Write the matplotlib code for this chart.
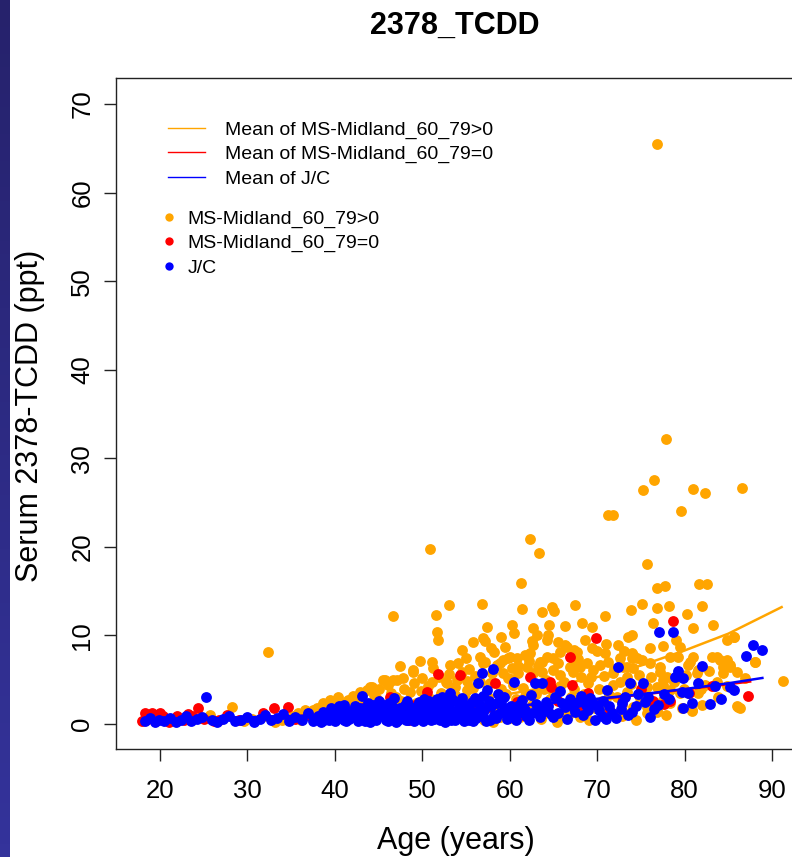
import numpy as np
import matplotlib
matplotlib.use("Agg")
import matplotlib.pyplot as plt
from matplotlib.lines import Line2D

plt.rcParams['font.family'] = ['Liberation Sans', 'DejaVu Sans']

# (age, serum ppt)
ms_pos = [  # MS-Midland_60_79>0 (orange)
    (76.8, 65.5), (77.9, 32.2), (76.5, 27.6), (75.2, 26.4), (81.0, 26.5), (82.3, 26.1),
    (86.6, 26.6), (79.6, 24.1), (71.2, 23.6), (71.8, 23.6), (62.3, 20.9), (63.3, 19.3),
    (50.9, 19.8), (75.7, 18.1), (76.8, 15.4), (77.8, 15.6), (81.6, 15.8), (82.6, 15.8),
    (61.3, 15.9), (46.7, 12.2), (51.6, 12.3), (53.0, 13.4), (56.8, 13.6), (61.4, 13.0),
    (63.7, 12.6), (64.8, 13.2), (65.1, 12.8), (67.5, 13.4), (73.9, 12.9), (75.1, 13.5),
    (76.8, 13.1), (78.2, 13.3), (82.0, 13.3), (70.9, 12.2), (80.3, 12.4), (51.7, 10.4),
    (51.8, 9.5), (57.4, 11.0), (60.3, 11.2), (60.5, 10.3), (62.7, 10.8), (63.1, 10.0),
    (64.5, 11.2), (64.4, 10.0), (66.3, 11.1), (68.3, 11.4), (69.4, 11.0), (74.0, 10.0),
    (76.4, 11.4), (81.0, 10.8), (83.2, 11.2), (85.6, 9.8), (84.9, 9.5), (32.4, 8.1),
    (54.5, 8.4), (55.8, 9.3), (56.9, 9.7), (57.2, 9.4), (62.7, 8.9), (62.3, 8.0),
    (64.3, 9.5), (65.5, 9.3), (66.3, 8.9), (65.8, 8.1), (67.3, 8.4), (66.6, 8.7),
    (67.7, 8.1), (72.4, 8.9), (70.0, 8.2), (69.4, 8.6), (70.9, 8.0), (76.0, 8.6),
    (77.5, 8.8), (79.5, 8.7), (74.0, 8.0), (74.0, 7.5), (75.1, 7.2), (73.0, 6.4),
    (74.1, 6.3), (77.2, 5.9), (77.5, 5.0), (78.0, 5.3), (80.4, 6.7), (81.4, 5.8),
    (83.7, 7.6), (84.9, 7.2), (85.2, 6.4), (86.0, 5.9), (84.4, 5.8), (88.1, 7.0),
    (91.3, 4.9), (83.8, 3.0), (86.0, 2.0), (86.3, 1.8), (75.7, 1.9), (76.8, 1.6),
    (79.7, 1.8), (80.8, 1.6), (82.0, 2.1), (76.8, 4.2), (78.3, 3.8), (74.9, 2.9),
    (75.9, 1.3), (47.5, 6.6), (49.7, 7.1), (51.1, 7.0), (53.2, 6.7), (54.1, 6.9),
    (48.9, 5.9), (47.8, 5.2), (47.1, 5.0), (45.7, 5.0), (44.2, 4.2), (50.0, 5.2),
    (51.1, 4.7), (52.7, 4.7), (53.7, 4.2), (55.1, 4.9), (55.8, 4.1), (57.2, 7.0),
    (58.5, 6.7), (59.2, 7.2), (60.0, 7.6), (60.8, 7.5), (61.7, 7.8), (58.0, 5.8),
    (59.2, 5.8), (59.8, 5.2), (60.9, 5.8), (60.4, 4.4), (63.7, 7.0), (62.7, 5.8),
    (63.7, 5.9), (65.0, 6.1), (65.8, 5.5), (67.2, 5.9), (53.2, 2.7), (54.3, 2.7),
    (55.5, 1.9), (58.9, 0.8), (61.2, 0.8), (65.4, 0.4), (28.2, 1.9), (25.7, 1.0),
    (39.4, 2.7), (40.4, 3.0), (41.5, 2.7), (42.1, 3.2), (38.6, 2.4), (36.6, 1.6),
    (37.5, 1.6), (44.0, 4.2), (43.7, 3.8), (42.9, 3.6), (45.5, 5.0), (46.7, 5.0),
    (48.9, 6.1), (51.2, 6.3), (57.0, 6.9), (52.8, 4.6), (54.0, 5.0), (55.1, 3.8),
    (56.6, 4.7), (58.9, 6.9), (59.8, 7.5), (60.3, 6.3), (62.0, 6.4), (63.5, 7.0),
    (64.3, 7.6), (65.0, 7.5), (68.0, 6.4), (68.8, 6.9), (69.5, 6.1), (70.3, 6.7),
    (67.5, 6.8), (68.2, 5.3), (69.0, 4.6), (70.2, 4.0), (71.4, 3.3), (68.6, 2.5),
    (69.8, 1.8), (71.0, 1.0), (67.4, 3.9), (70.8, 5.4), (71.9, 6.2), (72.6, 4.8),
    (73.4, 3.6), (72.8, 2.2), (73.8, 1.3), (61.8, 3.2), (62.6, 2.2), (63.9, 3.9),
    (64.6, 2.8), (65.7, 4.3), (66.4, 2.0), (67.0, 3.0), (64.0, 1.2), (66.8, 1.1),
    (62.9, 1.5), (60.7, 2.8), (59.6, 3.4), (58.4, 2.1), (57.5, 3.0), (56.3, 2.4),
    (40.9, 1.5), (42.6, 2.2), (43.5, 1.4), (44.8, 2.8), (45.9, 1.9), (46.4, 3.5),
    (47.6, 2.6), (48.6, 3.6), (49.3, 2.4), (50.3, 3.1), (51.5, 2.0), (52.1, 3.5),
    (53.8, 3.3), (55.0, 2.8), (44.5, 3.3), (41.8, 1.9), (39.0, 1.2), (37.9, 0.8),
    (36.1, 0.5), (35.2, 0.9), (34.0, 0.4), (33.1, 0.2), (30.5, 0.6), (29.6, 0.3),
    (31.9, 0.9), (88.0, 7.0), (83.1, 7.6), (84.4, 6.4), (84.1, 7.2), (79.2, 7.6),
    (80.6, 7.0), (81.5, 6.1), (81.0, 7.6), (76.0, 6.9), (77.2, 6.4), (78.3, 7.6),
    (74.1, 7.8), (74.6, 7.5), (72.6, 7.5), (73.4, 6.4), (71.8, 5.8), (73.4, 5.3),
    (75.7, 4.2), (77.5, 4.4), (79.5, 3.5), (82.3, 4.4), (83.7, 4.7), (81.5, 3.5),
    (76.8, 1.4), (77.5, 2.7), (78.3, 2.4), (75.7, 1.2), (74.1, 1.9), (72.6, 1.2),
    (68.0, 0.8), (65.4, 0.2), (62.0, 1.2), (60.0, 0.7), (58.1, 0.2), (80.9, 1.5),
    (86.1, 1.9), (85.2, 6.7), (85.6, 9.8),
    (40.2, 1.9), (41.2, 2.4), (42.4, 1.1), (43.0, 2.9), (44.1, 1.6), (45.0, 3.9),
    (45.4, 2.3), (46.1, 4.4), (47.0, 3.1), (47.9, 4.0), (48.3, 1.9), (49.0, 4.6),
    (49.9, 3.7), (50.6, 4.3), (51.0, 2.8), (51.9, 5.3), (52.4, 2.4), (53.0, 5.6),
    (53.5, 3.9), (54.6, 5.9), (55.3, 6.2), (56.0, 5.4), (56.6, 7.6), (57.8, 4.6),
    (58.2, 8.1), (59.0, 3.9), (59.5, 8.7), (60.2, 5.1), (61.0, 6.6), (61.5, 4.1),
    (62.2, 7.1), (63.0, 3.4), (63.2, 6.6), (64.1, 5.0), (64.9, 3.6), (65.5, 6.9),
    (66.2, 4.8), (66.9, 6.4), (67.8, 7.3), (68.5, 3.4), (69.3, 5.3), (70.6, 2.6),
    (71.3, 7.0), (71.8, 4.4), (72.3, 3.0), (73.1, 8.2), (73.9, 4.5), (74.8, 5.5),
    (75.4, 3.4), (76.2, 5.3), (78.8, 4.8), (79.9, 4.0), (80.2, 5.5), (81.9, 4.0),
    (82.8, 6.0), (84.8, 4.3), (86.9, 5.2), (38.0, 1.8), (39.8, 2.0), (36.8, 1.1),
    (35.8, 1.3), (43.3, 0.6), (46.9, 0.8), (49.6, 1.2), (52.2, 0.6), (54.9, 1.3),
    (57.1, 0.4), (60.6, 1.6), (63.6, 0.6), (66.0, 1.2), (69.1, 0.4), (70.9, 1.9),
    (72.9, 0.9), (74.4, 0.5), (77.9, 1.0), (62.5, 9.4), (59.0, 9.8), (57.9, 8.6),
    (55.0, 7.4), (71.0, 9.0), (73.5, 9.8), (79.0, 9.5), (68.6, 9.5),
]

ms_zero = [  # MS-Midland_60_79=0 (red)
    (18.3, 1.2), (19.1, 1.2), (18.0, 0.3), (18.6, 0.6), (19.5, 0.5), (20.3, 0.9),
    (21.0, 0.2), (22.0, 0.9), (22.8, 0.4), (23.7, 0.9), (24.3, 1.8), (25.0, 0.6),
    (26.2, 0.3), (27.7, 1.0), (26.8, 0.5), (29.0, 0.4), (31.8, 1.2), (33.0, 1.8),
    (34.6, 1.9), (35.5, 0.6), (36.9, 1.0), (38.2, 0.4), (40.1, 1.3), (42.0, 0.8),
    (43.5, 1.9), (44.8, 1.1), (46.3, 3.0), (47.9, 1.4), (49.2, 2.2), (50.5, 3.6),
    (51.8, 5.7), (52.6, 1.0), (54.3, 5.5), (55.5, 2.2), (56.7, 1.2), (58.3, 4.6),
    (59.5, 1.6), (60.8, 2.5), (62.3, 5.3), (63.5, 1.5), (64.6, 4.7), (64.7, 4.2),
    (66.9, 7.6), (67.1, 4.4), (68.4, 2.0), (69.9, 9.7), (71.5, 1.5), (73.0, 2.8),
    (76.4, 2.6), (77.6, 2.3), (78.3, 2.6), (78.7, 11.6), (83.1, 4.3), (87.3, 3.2),
    (80.5, 3.5), (20.0, 1.2), (41.0, 0.6), (45.5, 1.8), (48.5, 0.4), (53.5, 1.3),
    (57.5, 1.9), (61.5, 1.0), (65.5, 2.6), (69.0, 3.5), (75.0, 4.0), (18.8, 0.9),
    (21.5, 0.6), (23.2, 1.1),
]

jc = [  # J/C (blue)
    (18.3, 0.3), (18.9, 0.7), (19.4, 0.2), (19.9, 0.5), (20.5, 0.3), (21.2, 0.7),
    (21.8, 0.2), (22.4, 0.5), (23.0, 0.9), (23.6, 0.3), (24.2, 0.6), (24.8, 0.8),
    (25.3, 3.0), (25.9, 0.4), (26.5, 0.2), (27.2, 0.6), (27.9, 0.9), (28.6, 0.3),
    (29.3, 0.5), (30.0, 0.8), (30.7, 0.2), (31.4, 0.6), (32.0, 1.0), (32.7, 0.4),
    (33.4, 0.7), (34.1, 1.1), (34.8, 0.3), (35.5, 0.8), (36.2, 0.5), (36.9, 1.2),
    (37.5, 0.3), (38.1, 0.9), (38.7, 1.4), (39.3, 0.4), (39.8, 1.1), (40.3, 0.7),
    (40.8, 1.6), (41.3, 0.3), (41.8, 1.2), (42.3, 2.0), (42.8, 0.6), (43.1, 3.2),
    (43.5, 1.5), (44.0, 0.2), (44.4, 2.1), (44.9, 0.9), (45.3, 1.7), (45.8, 0.4),
    (46.2, 2.4), (46.6, 1.1), (47.0, 0.2), (47.4, 1.8), (47.8, 0.7), (48.2, 2.6),
    (48.6, 1.3), (49.0, 0.3), (49.4, 2.0), (49.8, 0.9), (50.2, 2.8), (50.6, 1.5),
    (51.0, 0.4), (51.4, 2.3), (51.8, 1.0), (52.2, 3.0), (52.6, 0.2), (53.0, 1.8),
    (53.2, 3.5), (53.6, 0.7), (54.0, 2.5), (54.4, 1.3), (54.8, 0.3), (55.2, 2.1),
    (55.6, 0.9), (56.0, 2.9), (56.4, 4.6), (56.8, 5.8), (57.1, 1.6), (57.4, 3.8),
    (57.8, 0.5), (58.1, 6.2), (58.5, 2.4), (58.9, 1.2), (59.3, 3.1), (59.7, 0.6),
    (60.1, 2.0), (60.5, 4.7), (60.9, 1.3), (61.4, 2.7), (61.9, 0.9), (62.4, 3.3),
    (62.9, 4.6), (63.3, 1.7), (63.7, 4.6), (64.2, 2.5), (64.7, 1.1), (65.2, 3.0),
    (65.8, 3.7), (66.3, 1.9), (66.9, 2.8), (67.5, 1.4), (68.1, 3.2), (68.7, 2.2),
    (69.2, 2.9), (69.7, 0.5), (70.2, 1.6), (70.7, 2.6), (71.1, 3.8), (71.7, 1.2),
    (72.4, 6.4), (72.9, 2.4), (73.5, 1.0), (73.8, 4.6), (74.4, 2.0), (75.2, 4.6),
    (75.8, 3.0), (76.5, 1.7), (77.1, 10.4), (77.6, 3.4), (78.7, 10.4), (78.9, 5.3),
    (79.2, 6.0), (79.8, 5.2), (79.8, 1.8), (80.4, 3.5), (81.5, 4.6), (82.0, 6.5),
    (82.9, 2.3), (83.5, 4.3), (85.2, 4.2), (85.6, 3.8), (87.0, 7.7), (87.8, 8.9),
    (88.9, 8.4), (79.7, 3.6),
    (38.4, 0.2), (39.0, 0.8), (39.6, 1.8), (40.0, 0.3), (40.6, 1.0), (41.1, 2.2),
    (41.6, 0.6), (42.1, 1.4), (42.6, 0.3), (43.2, 0.9), (43.8, 2.4), (44.2, 1.2),
    (44.7, 0.5), (45.1, 2.6), (45.6, 1.1), (46.0, 0.6), (46.4, 1.5), (46.8, 2.9),
    (47.2, 0.5), (47.6, 1.3), (48.0, 2.2), (48.4, 0.4), (48.8, 1.7), (49.2, 1.0),
    (49.6, 2.5), (50.0, 0.6), (50.4, 1.9), (50.8, 2.6), (51.2, 0.8), (51.6, 1.6),
    (52.0, 0.5), (52.4, 2.1), (52.8, 1.2), (53.4, 2.8), (53.8, 0.4), (54.2, 1.6),
    (54.6, 2.9), (55.0, 0.8), (55.4, 1.7), (55.8, 0.3), (56.2, 1.2), (56.6, 2.2),
    (57.0, 0.9), (57.6, 2.6), (58.2, 1.0), (58.7, 3.4), (59.5, 1.8), (60.3, 0.9),
    (61.1, 2.2), (61.7, 1.6), (62.2, 0.5), (63.0, 2.3), (64.0, 1.5), (65.0, 0.8),
    (66.0, 2.4), (67.2, 1.9), (68.4, 1.0), (69.5, 2.3), (70.5, 0.9), (71.4, 2.0),
    (72.2, 0.7), (74.0, 1.4), (75.5, 2.5), (77.0, 2.1), (80.8, 2.4), (84.2, 2.8),
    (38.8, 0.5), (39.5, 1.0), (40.5, 2.0), (41.0, 0.4), (41.5, 1.5), (42.0, 0.9),
    (42.9, 1.8), (43.4, 0.3), (43.9, 1.0), (44.5, 0.7), (45.0, 1.4), (45.5, 2.1),
    (46.1, 0.3), (46.5, 2.0), (47.1, 1.6), (47.5, 0.9), (48.1, 0.5), (48.5, 2.0),
    (48.9, 1.3), (49.3, 0.7), (49.7, 1.6), (50.1, 0.3), (50.5, 1.2), (50.9, 2.0),
    (51.3, 0.6), (51.7, 2.8), (52.1, 1.4), (52.5, 0.8), (52.9, 2.5), (53.3, 0.4),
    (53.7, 1.5), (54.1, 0.9), (54.5, 2.2), (54.9, 1.8), (55.3, 0.5), (55.7, 2.5),
    (56.1, 0.7), (56.5, 1.5), (56.9, 3.2), (57.3, 0.3), (57.9, 2.0), (58.4, 0.7),
    (59.0, 2.6), (59.9, 1.4), (60.7, 0.4), (61.5, 1.8), (62.6, 1.2), (63.5, 0.8),
    (64.4, 2.0), (65.5, 1.3), (66.6, 0.6), (67.8, 2.5), (68.9, 1.6), (70.0, 2.1),
    (71.0, 0.6), (72.7, 1.7), (73.2, 3.0), (74.7, 3.4), (76.0, 0.8), (78.2, 2.8),
]

# fitted mean curves
mean_pos_age = [35, 40, 45, 50, 55, 60, 65, 70, 75, 80, 85, 91.1]
mean_pos_ppt = [1.15, 1.4, 1.75, 2.2, 2.75, 3.4, 4.3, 5.3, 6.6, 8.3, 10.2, 13.2]
mean_zero_age = [18, 25, 30, 35, 40, 45, 50, 55, 60, 65, 70, 75, 80, 85, 87.5]
mean_zero_ppt = [0.5, 0.62, 0.75, 0.88, 1.03, 1.2, 1.42, 1.68, 1.98, 2.35, 2.8, 3.3, 3.9, 4.5, 4.8]
mean_jc_age = [18, 25, 30, 35, 40, 45, 50, 55, 60, 65, 70, 75, 80, 85, 88.9]
mean_jc_ppt = [0.45, 0.6, 0.75, 0.9, 1.05, 1.25, 1.45, 1.7, 2.0, 2.4, 2.85, 3.35, 3.95, 4.6, 5.2]

ORANGE, RED, BLUE = '#FFA500', '#FF0000', '#0000FF'
W, H = 792, 857

fig = plt.figure(figsize=(W / 100, H / 100), dpi=100)

# dark slide border on the left
band = fig.add_axes([0, 0, 10 / W, 1])
band.imshow(np.linspace(0, 1, 64).reshape(-1, 1), aspect='auto',
            cmap=matplotlib.colors.LinearSegmentedColormap.from_list('b', ['#26226C', '#34339B']))
band.set_axis_off()

ax = fig.add_axes([116 / W, 1 - 749 / H, (797 - 116) / W, (749 - 78) / H])
ax.set_xlim(14.97, 92.86)
ax.set_ylim(-2.82, 72.94)

# each group's points, then its mean line
groups = [(ms_pos, mean_pos_age, mean_pos_ppt, ORANGE),
          (ms_zero, mean_zero_age, mean_zero_ppt, RED),
          (jc, mean_jc_age, mean_jc_ppt, BLUE)]
z = 2
for data, mx, my, col in groups:
    a, v = zip(*data)
    ax.plot(a, v, 'o', color=col, markersize=7.8, markeredgewidth=0, zorder=z)
    ax.plot(mx, my, color=col, lw=1.8, zorder=z + 0.5)
    z += 1

ax.set_xticks(range(20, 91, 10))
ax.set_yticks(range(0, 71, 10))
for s in ax.spines.values():
    s.set_linewidth(1.0)
    s.set_color('#222222')
ax.tick_params(direction='out', length=8.6, width=1.0, color='#222222',
               labelsize=18.5)
ax.tick_params(axis='x', pad=13)
ax.tick_params(axis='y', pad=7, labelrotation=90)
for lab in ax.get_yticklabels():
    lab.set_va('center')

labels1 = ['Mean of MS-Midland_60_79>0', 'Mean of MS-Midland_60_79=0', 'Mean of J/C']
labels2 = ['MS-Midland_60_79>0', 'MS-Midland_60_79=0', 'J/C']
cols = [ORANGE, RED, BLUE]
h1 = [Line2D([], [], color=c, lw=1.0) for c in cols]
leg1 = ax.legend(h1, labels1, loc='upper left', bbox_to_anchor=(168 / W, 1 - 121 / H),
                 bbox_transform=fig.transFigure, frameon=False, fontsize=14,
                 handlelength=1.9, handletextpad=1.05, labelspacing=0.35,
                 borderpad=0, borderaxespad=0)
ax.add_artist(leg1)
h2 = [Line2D([], [], color=c, marker='o', ls='none', markersize=6, markeredgewidth=0) for c in cols]
ax.legend(h2, labels2, loc='upper left', bbox_to_anchor=(159 / W, 1 - 210 / H),
          bbox_transform=fig.transFigure, frameon=False, fontsize=14,
          handlelength=1.0, handletextpad=0.45, labelspacing=0.35,
          borderpad=0, borderaxespad=0)

fig.text(455 / W, 1 - 26 / H, '2378_TCDD', ha='center', va='center',
         fontsize=22, fontweight='bold')
fig.text(456 / W, 1 - 841 / H, 'Age (years)', ha='center', va='center', fontsize=22)
fig.text(30 / W, 1 - 416 / H, 'Serum 2378-TCDD (ppt)', ha='center', va='center',
         fontsize=22, rotation=90)

fig.savefig('out.png', dpi=100)
